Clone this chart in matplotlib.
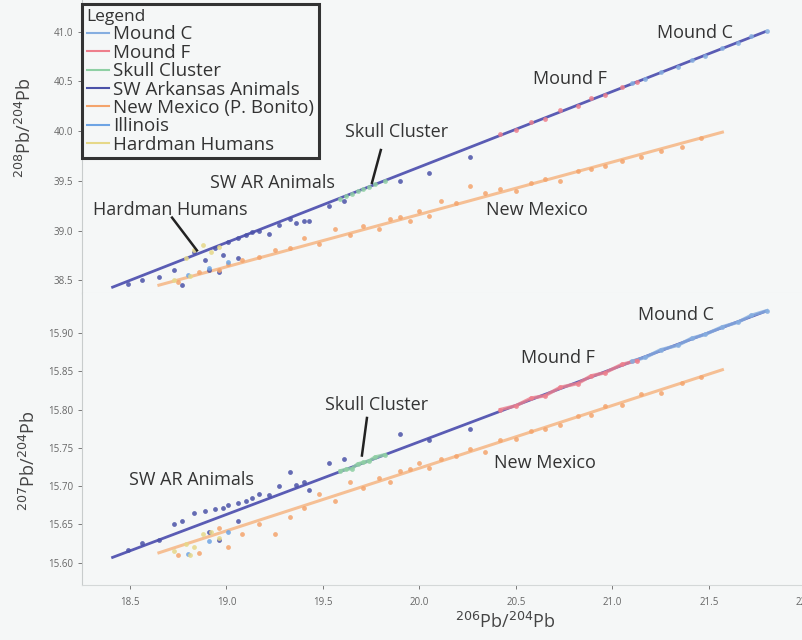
import numpy as np
import matplotlib
matplotlib.use("Agg")
import matplotlib.pyplot as plt
from matplotlib.lines import Line2D

plt.rcParams['font.family'] = ['Open Sans', 'DejaVu Sans']

# ---- data ----
# Mound C
mc_x = [21.10, 21.17, 21.25, 21.34, 21.41, 21.48, 21.57, 21.65, 21.72, 21.80]
mc_208 = [40.48, 40.52, 40.60, 40.65, 40.72, 40.76, 40.84, 40.89, 40.96, 41.01]
mc_207 = [15.863, 15.868, 15.878, 15.884, 15.893, 15.898, 15.908, 15.914, 15.923, 15.929]

# Mound F
mf_x = [20.42, 20.50, 20.58, 20.65, 20.73, 20.82, 20.89, 20.96, 21.05, 21.13]
mf_208 = [39.97, 40.01, 40.09, 40.12, 40.21, 40.25, 40.33, 40.36, 40.44, 40.49]
mf_207 = [15.800, 15.805, 15.815, 15.818, 15.829, 15.834, 15.844, 15.848, 15.859, 15.864]

# Skull cluster
sk_x = [19.59, 19.62, 19.65, 19.68, 19.71, 19.74, 19.77, 19.82]
sk_208 = [39.32, 39.35, 39.37, 39.40, 39.42, 39.44, 39.47, 39.50]
sk_207 = [15.720, 15.722, 15.723, 15.729, 15.731, 15.733, 15.738, 15.741]

# SW Arkansas animals
sw_x = [18.49, 18.56, 18.65, 18.73, 18.77, 18.83, 18.89, 18.91, 18.94, 18.96,
        18.98, 19.01, 19.06, 19.06, 19.10, 19.13, 19.17, 19.22, 19.27, 19.36,
        19.40, 19.43, 19.53, 19.61, 19.90, 20.05, 20.26, 19.33]
sw_208 = [38.46, 38.50, 38.53, 38.60, 38.45, 38.78, 38.70, 38.60, 38.82, 38.58,
          38.75, 38.88, 38.92, 38.72, 38.95, 38.99, 39.00, 38.96, 39.06, 39.08,
          39.10, 39.10, 39.25, 39.30, 39.50, 39.58, 39.74, 39.12]
sw_207 = [15.616, 15.626, 15.630, 15.650, 15.655, 15.665, 15.668, 15.640, 15.670, 15.630,
          15.672, 15.675, 15.678, 15.655, 15.680, 15.684, 15.690, 15.688, 15.700, 15.702,
          15.705, 15.695, 15.730, 15.735, 15.768, 15.760, 15.775, 15.718]

# New Mexico (P. Bonito)
nm_x = [18.75, 18.86, 18.96, 19.01, 19.08, 19.17, 19.25, 19.33, 19.40, 19.48,
        19.56, 19.64, 19.71, 19.79, 19.85, 19.90, 19.95, 20.00, 20.05, 20.11,
        20.19, 20.26, 20.34, 20.42, 20.50, 20.58, 20.65, 20.73, 20.82, 20.89,
        20.96, 21.05, 21.15, 21.25, 21.36, 21.46]
nm_208 = [38.48, 38.58, 38.60, 38.66, 38.70, 38.73, 38.80, 38.82, 38.92, 38.86,
          39.02, 38.95, 39.05, 39.02, 39.12, 39.14, 39.10, 39.20, 39.15, 39.30,
          39.28, 39.45, 39.38, 39.42, 39.40, 39.48, 39.52, 39.50, 39.60, 39.62,
          39.65, 39.70, 39.74, 39.80, 39.84, 39.93]
nm_207 = [15.610, 15.613, 15.645, 15.620, 15.637, 15.650, 15.637, 15.660, 15.672, 15.690,
          15.680, 15.705, 15.698, 15.710, 15.705, 15.720, 15.722, 15.730, 15.724, 15.735,
          15.740, 15.748, 15.745, 15.760, 15.762, 15.772, 15.775, 15.780, 15.792, 15.793,
          15.805, 15.806, 15.820, 15.822, 15.835, 15.843]

# Illinois
il_x = [18.80, 18.91, 19.01]
il_208 = [38.55, 38.62, 38.68]
il_207 = [15.612, 15.628, 15.640]

# Hardman humans
hh_x = [18.73, 18.79, 18.83, 18.88, 18.92, 18.96, 18.81]
hh_208 = [38.50, 38.72, 38.80, 38.85, 38.78, 38.83, 38.54]
hh_207 = [15.615, 15.625, 15.620, 15.638, 15.640, 15.632, 15.610]

# trend lines (end points)
main_x = [18.41, 21.79]
main_208 = [38.43, 41.00]
main_207 = [15.607, 15.928]
nm_line_x = [18.65, 21.57]
nm_line_208 = [38.45, 39.99]
nm_line_207 = [15.613, 15.852]

groups = [
    ("Mound C", "#86aee0", mc_x, mc_208, mc_207),
    ("Mound F", "#ee7f8c", mf_x, mf_208, mf_207),
    ("Skull Cluster", "#8fd0a4", sk_x, sk_208, sk_207),
    ("SW Arkansas Animals", "#4b52a8", sw_x, sw_208, sw_207),
    ("New Mexico (P. Bonito)", "#f4a46c", nm_x, nm_208, nm_207),
    ("Illinois", "#6ea4e4", il_x, il_208, il_207),
    ("Hardman Humans", "#e6d888", hh_x, hh_208, hh_207),
]

bg = "#f5f7f7"
fig = plt.figure(figsize=(8.03, 6.40), dpi=100, facecolor=bg)
ax1 = fig.add_axes([0.102, 0.542, 0.9315, 0.458], facecolor=bg)
ax2 = fig.add_axes([0.102, 0.086, 0.9315, 0.456], facecolor=bg)

for ax, key in [(ax1, 3), (ax2, 4)]:
    ml = main_208 if key == 3 else main_207
    nl = nm_line_208 if key == 3 else nm_line_207
    ax.plot(nm_line_x, nl, color="#f6b27c", lw=2.2, alpha=0.8, zorder=2)
    ax.plot(main_x, ml, color="#5a5cb4", lw=2.0, zorder=3)
    for name, col, gx, g208, g207 in groups:
        gy = g208 if key == 3 else g207
        if name in ("Mound C", "Mound F", "Skull Cluster") and key == 4:
            ax.plot(gx, gy, color=col, lw=2.5, alpha=0.8, zorder=4)
        ax.scatter(gx, gy, s=12, color=col, alpha=0.85, zorder=5, linewidths=0)
    ax.set_xlim(18.251, 22.127)
    for s in ["top", "right"]:
        ax.spines[s].set_visible(False)
    ax.spines["left"].set_color("#c8cccc")
    ax.spines["bottom"].set_color("#d4d8d8")
    ax.tick_params(labelsize=7, colors="#666666", length=3, width=0.6)

ax1.set_ylim(38.37, 41.32)
ax1.set_yticks([38.5, 39.0, 39.5, 40.0, 40.5, 41.0])
ax1.set_yticklabels(["38.5", "39.0", "39.5", "40.0", "40.5", "41.0"])
ax1.set_xticks([])
ax1.spines["bottom"].set_color("#e4e6e6")

ax2.set_ylim(15.571, 15.952)
ax2.set_yticks([15.60, 15.65, 15.70, 15.75, 15.80, 15.85, 15.90])
ax2.set_yticklabels(["15.60", "15.65", "15.70", "15.75", "15.80", "15.85", "15.90"])
ax2.set_xticks([18.5, 19.0, 19.5, 20.0, 20.5, 21.0, 21.5, 22.0])
ax2.set_xticklabels(["18.5", "19.0", "19.5", "20.0", "20.5", "21.0", "21.5", "22.0"])
ax2.tick_params(axis="x", pad=6)

tk = dict(fontsize=13, color="#333333", ha="center", va="center", zorder=6)
ax1.text(21.43, 40.99, "Mound C", **tk)
ax1.text(20.78, 40.52, "Mound F", **tk)
ax1.text(19.88, 39.99, "Skull Cluster", **tk)
ax1.plot([19.80, 19.754], [39.81, 39.48], color="#222222", lw=1.8, zorder=6)
ax1.text(19.24, 39.48, "SW AR Animals", **tk)
ax1.text(18.71, 39.21, "Hardman Humans", **tk)
ax1.plot([18.718, 18.847], [39.13, 38.80], color="#222222", lw=1.8, zorder=6)
ax1.text(20.61, 39.21, "New Mexico", **tk)

ax2.text(21.33, 15.923, "Mound C", **tk)
ax2.text(20.72, 15.867, "Mound F", **tk)
ax2.text(19.78, 15.806, "Skull Cluster", **tk)
ax2.plot([19.728, 19.702], [15.789, 15.740], color="#222222", lw=1.8, zorder=6)
ax2.text(18.82, 15.708, "SW AR Animals", **tk)
ax2.text(20.65, 15.730, "New Mexico", **tk)

fig.text(0.031, 0.80, r"$^{208}$Pb/$^{204}$Pb", rotation=90, ha="center", va="center",
         fontsize=13, color="#444444")
fig.text(0.036, 0.28, r"$^{207}$Pb/$^{204}$Pb", rotation=90, ha="center", va="center",
         fontsize=13, color="#444444")
fig.text(0.629, 0.028, r"$^{206}$Pb/$^{204}$Pb", ha="center", va="center",
         fontsize=13, color="#444444")

handles = [Line2D([0], [0], color=g[1], lw=1.5) for g in groups]
leg = ax1.legend(handles, [g[0] for g in groups], title="Legend", loc="upper left",
                 bbox_to_anchor=(0.0, 0.985), fontsize=13.5, title_fontsize=12.5,
                 handlelength=1.2, handletextpad=0.2, labelspacing=0.02,
                 borderpad=0.25, borderaxespad=0.0, fancybox=False, framealpha=1)
leg._legend_box.align = "left"
leg.get_frame().set_edgecolor("#333333")
leg.get_frame().set_linewidth(2.2)
leg.get_frame().set_facecolor(bg)
for t in leg.get_texts():
    t.set_color("#333333")
leg.get_title().set_color("#333333")

fig.savefig("out.png", dpi=100, facecolor=bg)
